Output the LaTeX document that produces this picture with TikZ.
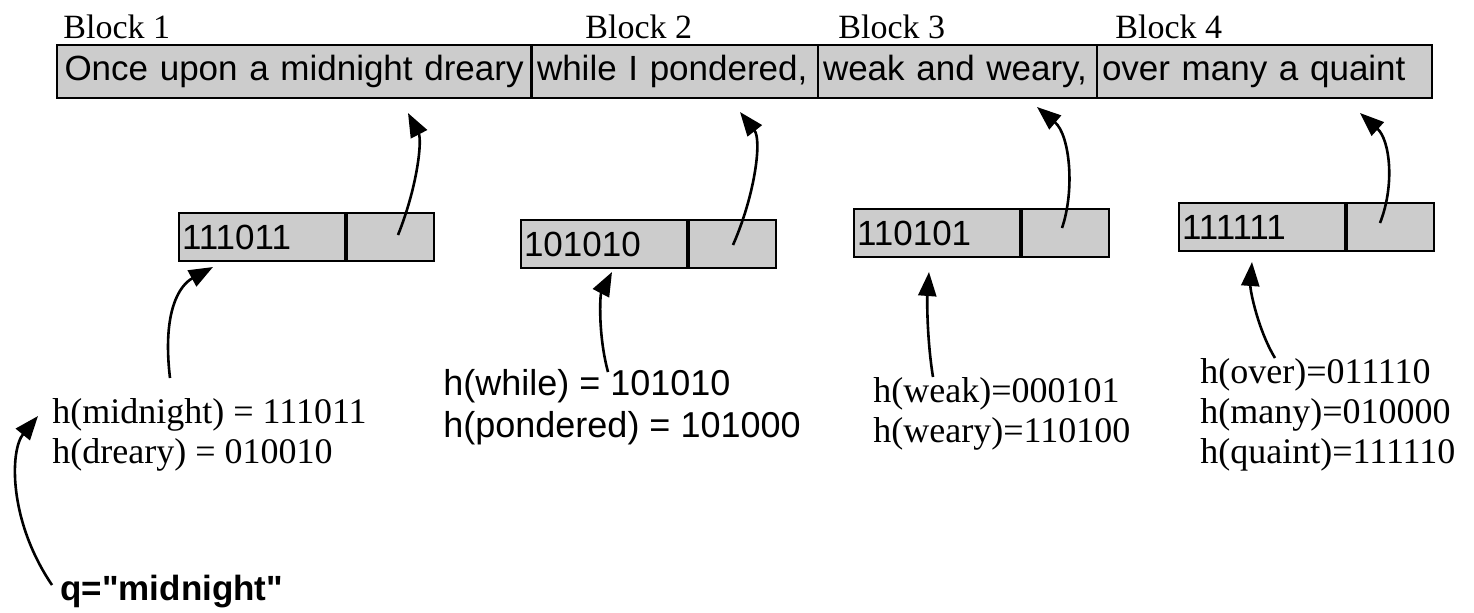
\documentclass[tikz,border=0pt]{standalone}
\usepackage{fontspec}
\setmainfont{Liberation Serif}
\setsansfont{Liberation Sans}
\newfontfamily\plainquotesans{Liberation Sans}[Ligatures=TeXOff]
\usetikzlibrary{arrows.meta}
\definecolor{cellgray}{HTML}{CCCCCC}
\tikzset{
  seg/.style={draw=black, fill=cellgray, line width=1pt, minimum height=26.5pt,
    inner xsep=2.5pt, inner ysep=0pt, align=left,
    font=\sffamily\fontsize{17.5}{20}\selectfont},
  keycell/.style={draw=black, fill=cellgray, line width=1pt, minimum height=24pt,
    text width=80pt, inner xsep=1.5pt, inner ysep=0pt, align=left,
    font=\sffamily\fontsize{17.5}{20}\selectfont},
  ptrcell/.style={draw=black, fill=cellgray, line width=1pt, minimum height=24pt,
    minimum width=43.5pt, inner sep=0pt},
  blocklabel/.style={font=\fontsize{17}{20}\selectfont, inner sep=0pt, anchor=west},
  hashserif/.style={font=\fontsize{18}{20}\selectfont, inner sep=0pt, align=left, anchor=north west},
  hashsans/.style={font=\sffamily\fontsize{18}{21}\selectfont, inner sep=0pt, align=left, anchor=north west},
  query/.style={font=\plainquotesans\bfseries\fontsize{17.5}{20}\selectfont, inner sep=0pt, anchor=west},
  ptr/.style={line width=1.3pt, -{Triangle[length=12pt,width=9pt]}}
}
\begin{document}
\begin{tikzpicture}[x=0.5pt, y=-0.5pt]
\path[use as bounding box] (0,0) rectangle (1474,612);

% block headings
\node[blocklabel] (b1) at (63,27) {Block 1};
\node[blocklabel] (b2) at (585,27) {Block 2};
\node[blocklabel] (b3) at (838,27) {Block 3};
\node[blocklabel] (b4) at (1115,27) {Block 4};

% the text, split into blocks
\node[seg, text width=232pt] (s1) at (293.5,71.5) {\hspace*{1.5pt}Once upon a midnight dreary};
\node[seg, text width=138pt] (s2) at (675,71.5) {while I pondered,};
\node[seg, text width=134.5pt] (s3) at (957.5,71.5) {weak and weary,};
\node[seg, text width=162.5pt] (s4) at (1264.5,71.5) {over many a quaint};

% signature records: signature | pointer to block
\node[keycell, anchor=north west] (k1) at (178,212) {111011};
\node[ptrcell, anchor=west] (p1) at (k1.east) {};
\node[keycell, anchor=north west] (k2) at (520,219) {101010};
\node[ptrcell, anchor=west] (p2) at (k2.east) {};
\node[keycell, anchor=north west] (k3) at (853,208) {110101};
\node[ptrcell, anchor=west] (p3) at (k3.east) {};
\node[keycell, anchor=north west] (k4) at (1178,202) {111111};
\node[ptrcell, anchor=west] (p4) at (k4.east) {};

% hashed words of each block
\node[hashserif] (h1) at (52,398) {h(midnight) = 111011\\h(dreary) = 010010};
\node[hashsans] (h2) at (443,369) {h(while) = 101010\\h(pondered) = 101000};
\node[hashserif] (h3) at (873,377) {h(weak)=000101\\h(weary)=110100};
\node[hashserif] (h4) at (1200,358) {h(over)=011110\\h(many)=010000\\h(quaint)=111110};

% query
\node[query] (q) at (60,592) {q="midnight"};

% arrow end points
\coordinate (p1s) at (398,235);  \coordinate (s1t) at (408,113);
\coordinate (p2s) at (733,245);  \coordinate (s2t) at (740,112);
\coordinate (p3s) at (1062,228); \coordinate (s3t) at (1037,107);
\coordinate (p4s) at (1380,223); \coordinate (s4t) at (1360,113);
\coordinate (h1s) at (170,378);  \coordinate (k1t) at (213,267);
\coordinate (h2s) at (608,372);  \coordinate (k2t) at (612,272);
\coordinate (h3s) at (933,377);  \coordinate (k3t) at (929,272);
\coordinate (h4s) at (1275,358); \coordinate (k4t) at (1252,262);
\coordinate (qs) at (52,585);    \coordinate (h1t) at (38,416);

% pointers from records to blocks
\draw[ptr] (p1s) .. controls (418,185) and (422,140) .. (s1t);
\draw[ptr] (p2s) .. controls (755,195) and (762,140) .. (s2t);
\draw[ptr] (p3s) .. controls (1075,190) and (1070,135) .. (s3t);
\draw[ptr] (p4s) .. controls (1395,185) and (1390,140) .. (s4t);

% hashes to records
\draw[ptr] (h1s) .. controls (162,310) and (180,285) .. (k1t);
\draw[ptr] (h2s) .. controls (598,335) and (600,295) .. (k2t);
\draw[ptr] (h3s) .. controls (927,340) and (927,300) .. (k3t);
\draw[ptr] (h4s) .. controls (1258,330) and (1250,290) .. (k4t);

% query to hashes
\draw[ptr] (qs) .. controls (8,520) and (10,450) .. (h1t);
\end{tikzpicture}
\end{document}
